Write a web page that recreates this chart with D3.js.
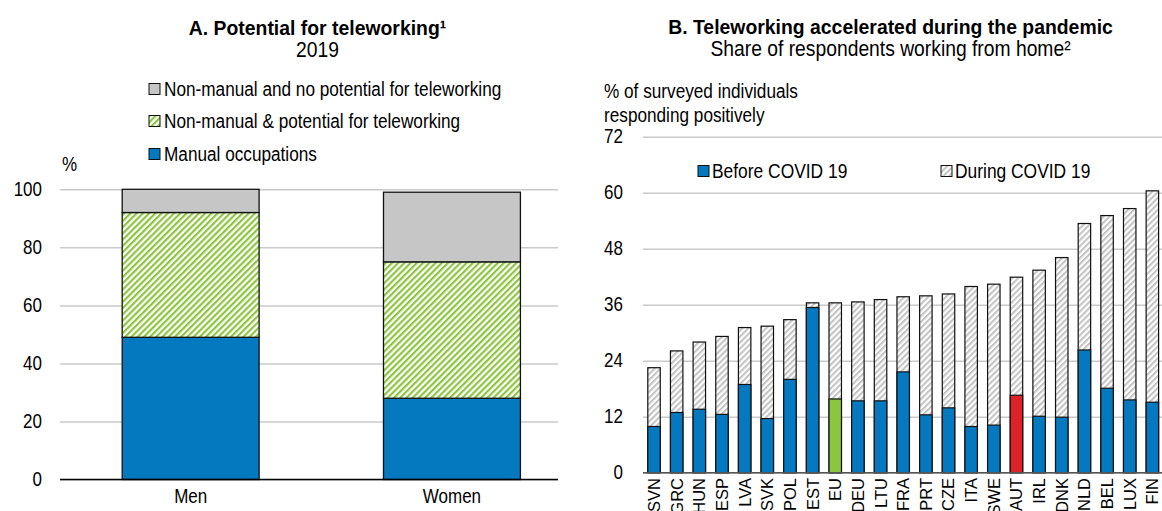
<!DOCTYPE html>
<html>
<head>
<meta charset="utf-8">
<script src="https://cdn.jsdelivr.net/npm/d3@7"></script>
<style>
  body { margin: 0; background: #fff; }
  svg text { font-family: "Liberation Sans", Arial, sans-serif; fill: #000; }
</style>
</head>
<body>
<svg id="chart" width="1162" height="511"></svg>
<script>
// Panel A data
const genders = ['Men', 'Women'];
const manualOcc = [49, 28];
const teleworkable = [43, 47];
const notTeleworkable = [8, 24];
const seriesA = ['Manual occupations', 'Non-manual & potential for teleworking', 'Non-manual and no potential for teleworking'];
const ticksA = [0, 20, 40, 60, 80, 100];

// Panel B data
const countries = ['SVN', 'GRC', 'HUN', 'ESP', 'LVA', 'SVK', 'POL', 'EST', 'EU', 'DEU', 'LTU', 'FRA',
  'PRT', 'CZE', 'ITA', 'SWE', 'AUT', 'IRL', 'DNK', 'NLD', 'BEL', 'LUX', 'FIN'];
const beforeCovid = [9.9, 12.9, 13.6, 12.5, 18.9, 11.6, 20.0, 35.4, 15.8, 15.4, 15.4, 21.6,
  12.4, 13.9, 9.9, 10.2, 16.6, 12.1, 11.9, 26.3, 18.1, 15.6, 15.1];
const duringCovid = [22.5, 26.1, 28.0, 29.2, 31.1, 31.4, 32.8, 36.4, 36.4, 36.6, 37.1, 37.7,
  37.9, 38.3, 39.9, 40.4, 41.9, 43.4, 46.1, 53.4, 55.1, 56.6, 60.4];
const seriesB = ['Before COVID 19', 'During COVID 19'];
const ticksB = [0, 12, 24, 36, 48, 60, 72];

const blue = '#0579bf', green = '#8cc63f', red = '#e0202a', grey = '#c6c6c6', gridCol = '#cacaca';

const svg = d3.select('#chart');
const defs = svg.append('defs');

function hatch(id, colour, size) {
	let p = defs.append('pattern')
		.attr('id', id)
		.attr('patternUnits', 'userSpaceOnUse')
		.attr('width', size)
		.attr('height', size)
		.attr('patternTransform', 'rotate(45)');
	p.append('rect').attr('width', size).attr('height', size).attr('fill', '#fff');
	p.append('rect').attr('width', size / 2).attr('height', size).attr('fill', colour);
}
hatch('hatchGreen', green, 4.4);
hatch('hatchGrey', '#c4c4c4', 4.2);

// squeeze text horizontally so it looks like the narrow chart font (same width, taller glyphs)
function narrow(sel, sx) {
	sel.each(function () {
		let t = d3.select(this);
		let x = +t.attr('x') || 0, y = +t.attr('y') || 0;
		t.attr('x', null).attr('y', null)
			.attr('font-size', +t.attr('font-size') / sx)
			.attr('transform', 'translate(' + x + ',' + y + ') scale(' + sx + ',1)');
	});
}

// ---------- Panel A ----------
let a = svg.append('g');
let xA = d3.scaleBand().domain(genders).range([60, 582.6]).paddingInner(0.476).paddingOuter(0.238);
let yA = d3.scaleLinear().domain([0, 100]).range([479.5, 189.3]);
let rightA = 558;

a.append('g')
	.attr('class', 'y axis')
	.attr('transform', 'translate(60,0)')
	.call(d3.axisLeft(yA).tickValues(ticksA).tickSize(-(rightA - 60)).tickPadding(18))
	.call(g => g.select('.domain').remove())
	.call(g => g.selectAll('line').attr('stroke', gridCol).attr('stroke-width', 1.5))
	.call(g => g.selectAll('text').attr('font-size', 17).attr('fill', '#000').attr('dy', null).attr('y', 6).call(narrow, 0.87));

let tableA = genders.map((gname, i) => ({
	name: gname, manual: manualOcc[i], tele: teleworkable[i], none: notTeleworkable[i]
}));
let stackA = d3.stack().keys(['manual', 'tele', 'none'])(tableA);
let fillA = { manual: blue, tele: 'url(#hatchGreen)', none: grey };

a.append('g')
	.selectAll('g')
	.data(stackA)
	.join('g')
	.attr('fill', d => fillA[d.key])
	.selectAll('rect')
	.data(d => d)
	.join('rect')
	.attr('x', d => xA(d.data.name))
	.attr('y', d => yA(d[1]))
	.attr('width', xA.bandwidth())
	.attr('height', d => yA(d[0]) - yA(d[1]))
	.attr('stroke', '#111')
	.attr('stroke-width', 1.3);

a.append('line')
	.attr('x1', 60).attr('x2', rightA)
	.attr('y1', yA(0)).attr('y2', yA(0))
	.attr('stroke', '#000').attr('stroke-width', 1.5);

a.selectAll('text.cat')
	.data(genders)
	.join('text')
	.attr('class', 'cat')
	.attr('x', d => xA(d) + xA.bandwidth() / 2)
	.attr('y', 503)
	.attr('text-anchor', 'middle')
	.attr('font-size', 17)
	.text(d => d)
	.call(narrow, 0.87);

a.append('text').attr('x', 317.5).attr('y', 35).attr('text-anchor', 'middle')
	.attr('font-size', 19.4).attr('font-weight', 'bold').text('A. Potential for teleworking¹')
	.call(narrow, 0.92);
a.append('text').attr('x', 317.5).attr('y', 57).attr('text-anchor', 'middle')
	.attr('font-size', 19.3).text('2019')
	.call(narrow, 0.88);
a.append('text').attr('x', 62).attr('y', 171).attr('font-size', 17).text('%').call(narrow, 0.87);

let legA = a.append('g')
	.selectAll('g')
	.data([
		[seriesA[2], grey],
		[seriesA[1], 'url(#hatchGreen)'],
		[seriesA[0], blue]
	])
	.join('g')
	.attr('transform', (d, i) => 'translate(149,' + [89, 121, 154][i] + ')');
legA.append('rect').attr('x', 0).attr('y', -5.5).attr('width', 11).attr('height', 11)
	.attr('fill', d => d[1]).attr('stroke', '#111').attr('stroke-width', 1);
legA.append('text').attr('x', 15).attr('y', 6.5).attr('font-size', 17.2).text(d => d[0]).call(narrow, 0.87);

// ---------- Panel B ----------
let b = svg.append('g');
let leftB = 643, rightB = 1162;
let xB = d3.scaleBand().domain(countries).range([642.7, 1163.7]).paddingInner(0.45).paddingOuter(0.225);
let yB = d3.scaleLinear().domain([0, 72]).range([472.7, 136.7]);

b.append('g')
	.attr('class', 'y axis')
	.attr('transform', 'translate(' + leftB + ',0)')
	.call(d3.axisLeft(yB).tickValues(ticksB).tickSize(-(rightB - leftB)).tickPadding(20))
	.call(g => g.select('.domain').remove())
	.call(g => g.selectAll('line').attr('stroke', gridCol).attr('stroke-width', 1.5))
	.call(g => g.selectAll('text').attr('font-size', 17).attr('fill', '#000').attr('dy', null).attr('y', 6).call(narrow, 0.87));

let tableB = countries.map((c, i) => ({ name: c, before: beforeCovid[i], during: duringCovid[i] }));

b.append('g')
	.selectAll('rect')
	.data(tableB)
	.join('rect')
	.attr('x', d => xB(d.name))
	.attr('y', d => yB(d.during))
	.attr('width', xB.bandwidth())
	.attr('height', d => yB(0) - yB(d.during))
	.attr('fill', 'url(#hatchGrey)')
	.attr('stroke', '#111')
	.attr('stroke-width', 1.2);

b.append('g')
	.selectAll('rect')
	.data(tableB)
	.join('rect')
	.attr('x', d => xB(d.name))
	.attr('y', d => yB(d.before))
	.attr('width', xB.bandwidth())
	.attr('height', d => yB(0) - yB(d.before))
	.attr('fill', d => d.name == 'EU' ? green : d.name == 'AUT' ? red : blue)
	.attr('stroke', '#111')
	.attr('stroke-width', 1.2);

b.append('line')
	.attr('x1', leftB).attr('x2', rightB)
	.attr('y1', yB(0)).attr('y2', yB(0))
	.attr('stroke', '#555').attr('stroke-width', 1.5);

// country labels run to the bottom edge, as in the source picture
b.selectAll('text.cty')
	.data(countries)
	.join('text')
	.attr('class', 'cty')
	.attr('transform', d => 'translate(' + (xB(d) + xB.bandwidth() / 2) + ',478) rotate(-90)')
	.attr('dy', '0.36em')
	.attr('text-anchor', 'end')
	.attr('font-size', 16.5)
	.text(d => d);

b.append('text').attr('x', 890.5).attr('y', 34).attr('text-anchor', 'middle')
	.attr('font-size', 19.4).attr('font-weight', 'bold').text('B. Teleworking accelerated during the pandemic')
	.call(narrow, 0.92);
b.append('text').attr('x', 890.5).attr('y', 56).attr('text-anchor', 'middle')
	.attr('font-size', 19.3).text('Share of respondents working from home²')
	.call(narrow, 0.88);
b.append('text').attr('x', 604).attr('y', 98).attr('font-size', 17.2).text('% of surveyed individuals').call(narrow, 0.87);
b.append('text').attr('x', 604).attr('y', 122).attr('font-size', 17.2).text('responding positively').call(narrow, 0.87);

let legB = b.append('g')
	.selectAll('g')
	.data([[seriesB[0], blue], [seriesB[1], 'url(#hatchGrey)']])
	.join('g')
	.attr('transform', (d, i) => 'translate(' + [698, 941][i] + ',171)');
legB.append('rect').attr('x', 0).attr('y', -5.5).attr('width', 11).attr('height', 11)
	.attr('fill', d => d[1]).attr('stroke', '#111').attr('stroke-width', 1);
legB.append('text').attr('x', 14).attr('y', 6.5).attr('font-size', 17.4).text(d => d[0]).call(narrow, 0.87);
</script>
</body>
</html>
